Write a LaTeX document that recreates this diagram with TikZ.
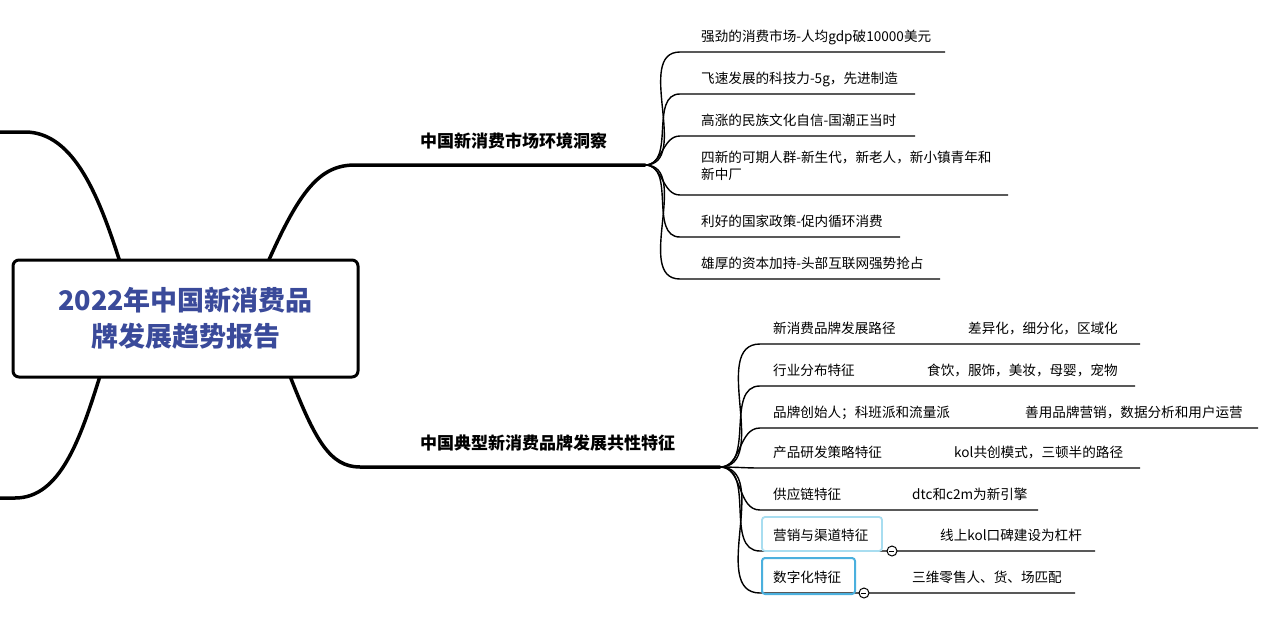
\documentclass[tikz,border=0pt]{standalone}
\usepackage{fontspec}
\setmainfont{Noto Sans CJK SC}
\definecolor{titleblue}{HTML}{3A4A9A}
\definecolor{lightbox}{HTML}{A8DDF0}
\definecolor{darkbox}{HTML}{4BB0DE}
\begin{document}
\begin{tikzpicture}[x=1pt,y=-1pt,
  thick branch/.style={line width=3.5pt,line cap=round},
  fan/.style={line width=1.4pt},
  leaf/.style={anchor=base west,font=\fontsize{13.6}{17}\selectfont,inner sep=0pt},
  btitle/.style={anchor=base west,font=\fontsize{17}{20}\selectfont\bfseries,inner sep=0pt},
  minus/.style={circle,draw,fill=white,line width=1pt,minimum size=10pt,inner sep=0pt}]
\useasboundingbox[fill=white] (0,0) rectangle (1280,638);
% main trunk curves
\draw[thick branch] (0,132) -- (25,132) .. controls (75,132) and (100,200) .. (120,262);
\draw[thick branch] (100,376) .. controls (80,440) and (60,498) .. (15,498) -- (0,498);
\draw[thick branch] (268,262) .. controls (300,190) and (320,165) .. (355,165) -- (645,165);
\draw[thick branch] (290,376) .. controls (315,440) and (330,467) .. (360,467) -- (720,467);
% main node
\node[draw,line width=3pt,rounded corners=6pt,fill=white,minimum width=345pt,minimum height=117pt,
  text=titleblue,font=\fontsize{27}{36}\selectfont\bfseries,align=center] (root) at (185.5,318.5)
  {2022年中国新消费品\\牌发展趋势报告};
\node[btitle] (b1) at (420,147) {中国新消费市场环境洞察};
\node[btitle] (b2) at (420,449) {中国典型新消费品牌发展共性特征};
\coordinate (h1) at (645,165);
\coordinate (h2) at (720,467);
% top children
\foreach \n/\y/\e/\t in {a1/52/945/{强劲的消费市场-人均gdp破10000美元},
  a2/94/915/{飞速发展的科技力-5g，先进制造},
  a3/136/915/{高涨的民族文化自信-国潮正当时},
  a5/237/900/{利好的国家政策-促内循环消费},
  a6/279/940/{雄厚的资本加持-头部互联网强势抢占}}{
  \coordinate (\n s) at (680,\y);
  \node[leaf] (\n) at (701,\y-11) {\t};
  \draw[fan] (h1) to[out=0,in=180] (\n s) -- (\e,\y);
}
\coordinate (a4s) at (680,195);
\node[leaf,align=left,anchor=north west] (a4) at (701,151) {四新的可期人群-新生代，新老人，新小镇青年和\\新中厂};
\draw[fan] (h1) to[out=0,in=180] (a4s) -- (1008,195);
% bottom children
\foreach \n/\y/\e/\t/\x/\u in {c1/344/1140/{新消费品牌发展路径}/968/{差异化，细分化，区域化},
  c2/386/1135/{行业分布特征}/927/{食饮，服饰，美妆，母婴，宠物},
  c3/428/1258/{品牌创始人；科班派和流量派}/1025/{善用品牌营销，数据分析和用户运营},
  c4/468/1140/{产品研发策略特征}/954/{kol共创模式，三顿半的路径},
  c5/510/1038/{供应链特征}/912/{dtc和c2m为新引擎}}{
  \coordinate (\n s) at (760,\y);
  \node[leaf] (\n) at (773,\y-11) {\t};
  \node[leaf] (\n d) at (\x,\y-11) {\u};
  \draw[fan] (h2) to[out=0,in=180] (\n s) -- (\e,\y);
}
\coordinate (c6s) at (760,551);
\node[leaf] (c6) at (773,540) {营销与渠道特征};
\node[leaf] (c6d) at (940,540) {线上kol口碑建设为杠杆};
\draw[fan] (h2) to[out=0,in=180] (c6s) -- (1095,551);
\draw[lightbox,line width=1.8pt,rounded corners=3pt] (762,517) rectangle (882,551);
\node[minus] (m6) at (892,551) {};
\draw[line width=1pt] (m6.west)++(2.5,0) -- ++(5,0);
\coordinate (c7s) at (760,593);
\node[leaf] (c7) at (773,582) {数字化特征};
\node[leaf] (c7d) at (912,582) {三维零售人、货、场匹配};
\draw[fan] (h2) to[out=0,in=180] (c7s) -- (1075,593);
\draw[darkbox,line width=2pt,rounded corners=3pt] (762,558) rectangle (855,594);
\node[minus] (m7) at (864,593) {};
\draw[line width=1pt] (m7.west)++(2.5,0) -- ++(5,0);
\end{tikzpicture}
\end{document}
